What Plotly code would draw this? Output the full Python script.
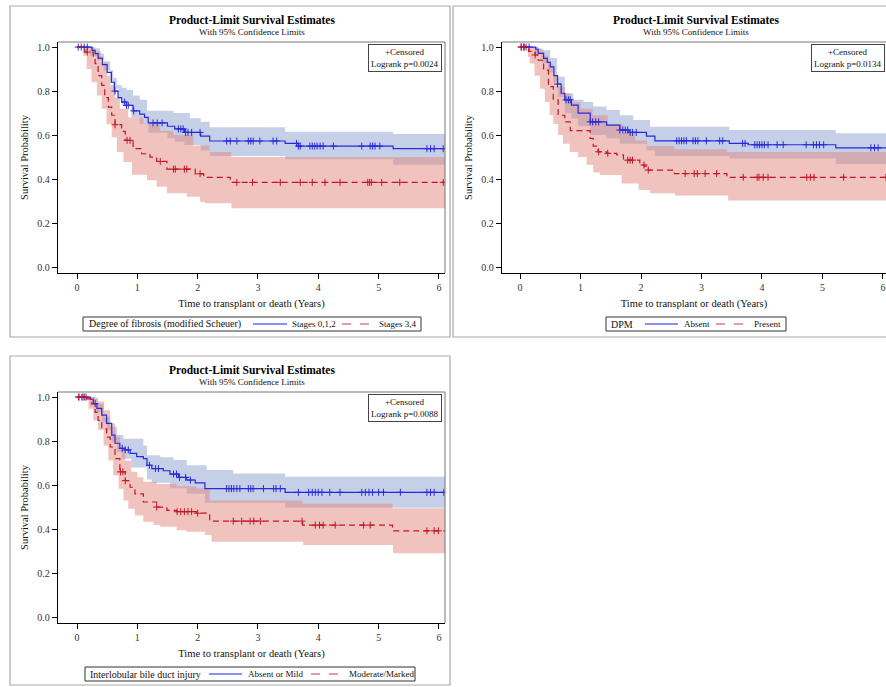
import plotly.graph_objects as go

W, H = 886, 687
OFF = 0  # page body margin is reset to 0 below

# ---------------- DATA ----------------
T_END = 6.1

# Panel 1: Degree of fibrosis (modified Scheuer)
p1_blue_t = [0, 0.25, 0.3, 0.35, 0.42, 0.5, 0.57, 0.62, 0.68, 0.74, 0.82, 0.93, 1.04, 1.12, 1.18, 1.5, 1.62, 1.78, 2.05, 2.2, 3.45, 3.67, 5.24]
p1_blue_s = [1.0, 0.985, 0.97, 0.95, 0.92, 0.885, 0.84, 0.80, 0.77, 0.75, 0.735, 0.71, 0.695, 0.68, 0.655, 0.64, 0.628, 0.612, 0.595, 0.573, 0.562, 0.55, 0.538]
p1_blue_cens = [0.02, 0.07, 0.12, 0.17, 0.63, 0.79, 0.82, 0.85, 0.94, 1.26, 1.33, 1.41, 1.68, 1.72, 1.76, 1.8, 1.84, 1.9, 2.04, 2.48, 2.54, 2.65, 2.84, 2.88, 2.92, 3.03, 3.25, 3.31, 3.64, 3.67, 3.7, 3.86, 3.9, 3.94, 3.98, 4.03, 4.08, 4.25, 4.72, 4.86, 4.9, 4.94, 5.02, 5.8, 5.86, 5.92, 6.07]
p1_blue_up_t = [0, 0.3, 0.38, 0.45, 0.55, 0.6, 0.66, 0.74, 0.82, 0.93, 1.04, 1.16, 1.6, 1.87, 2.05, 2.2, 3.45, 5.24]
p1_blue_up = [1.0, 0.995, 0.97, 0.935, 0.895, 0.86, 0.827, 0.815, 0.805, 0.78, 0.76, 0.71, 0.70, 0.676, 0.66, 0.635, 0.615, 0.605]
p1_blue_lo_t = [0, 0.21, 0.33, 0.44, 0.55, 0.6, 0.69, 0.74, 0.9, 1.04, 1.18, 1.5, 1.62, 1.78, 2.05, 2.2, 3.45, 5.24]
p1_blue_lo = [1.0, 0.96, 0.94, 0.894, 0.84, 0.81, 0.765, 0.735, 0.68, 0.65, 0.61, 0.585, 0.57, 0.555, 0.53, 0.505, 0.49, 0.465]

p1_red_t = [0, 0.13, 0.27, 0.3, 0.35, 0.41, 0.46, 0.52, 0.575, 0.63, 0.74, 0.8, 0.93, 1.07, 1.21, 1.32, 1.49, 1.96, 2.1, 2.54]
p1_red_s = [1.0, 0.977, 0.955, 0.925, 0.87, 0.826, 0.77, 0.727, 0.69, 0.647, 0.617, 0.576, 0.538, 0.515, 0.50, 0.48, 0.445, 0.424, 0.408, 0.385]
p1_red_cens = [0.17, 0.63, 0.83, 0.88, 1.38, 1.6, 1.63, 1.78, 1.82, 2.04, 2.65, 2.91, 3.37, 3.70, 3.90, 4.11, 4.36, 4.82, 4.85, 4.88, 5.05, 5.35, 6.07]
p1_red_up_t = [0, 0.2, 0.3, 0.4, 0.5, 0.55, 0.63, 0.71, 0.85, 1.1, 1.38, 1.6, 1.93, 2.2, 2.56]
p1_red_up = [1.0, 0.995, 0.98, 0.93, 0.87, 0.826, 0.77, 0.72, 0.68, 0.65, 0.62, 0.60, 0.553, 0.523, 0.50]
p1_red_lo_t = [0, 0.1, 0.16, 0.24, 0.33, 0.41, 0.49, 0.575, 0.66, 0.77, 0.91, 1.16, 1.32, 1.49, 1.82, 2.04, 2.12, 2.56]
p1_red_lo = [1.0, 0.96, 0.90, 0.84, 0.78, 0.72, 0.65, 0.59, 0.523, 0.477, 0.42, 0.395, 0.365, 0.335, 0.32, 0.297, 0.29, 0.267]

# Panel 2: DPM
p2_blue_t = [0, 0.26, 0.3, 0.39, 0.45, 0.5, 0.56, 0.62, 0.68, 0.74, 0.85, 0.96, 1.16, 1.43, 1.65, 1.8, 2.09, 2.23, 3.46, 3.77, 5.22]
p2_blue_s = [1.0, 0.99, 0.971, 0.949, 0.93, 0.91, 0.87, 0.832, 0.79, 0.76, 0.736, 0.70, 0.66, 0.645, 0.623, 0.612, 0.595, 0.574, 0.562, 0.556, 0.542]
p2_blue_cens = [0.02, 0.06, 0.1, 0.15, 0.62, 0.76, 0.8, 0.83, 1.16, 1.2, 1.25, 1.3, 1.65, 1.7, 1.74, 1.78, 1.82, 1.86, 1.92, 2.59, 2.63, 2.67, 2.71, 2.75, 2.86, 2.9, 2.94, 3.08, 3.3, 3.35, 3.68, 3.72, 3.88, 3.92, 3.96, 4.0, 4.04, 4.1, 4.25, 4.35, 4.73, 4.85, 4.9, 4.95, 5.02, 5.8, 5.86, 5.92]
p2_blue_up_t = [0, 0.3, 0.36, 0.5, 0.61, 0.74, 0.88, 1.05, 1.21, 1.43, 1.65, 1.87, 2.15, 3.46, 5.22]
p2_blue_up = [1.0, 0.995, 0.986, 0.95, 0.865, 0.79, 0.76, 0.75, 0.73, 0.714, 0.69, 0.668, 0.638, 0.623, 0.608]
p2_blue_lo_t = [0, 0.24, 0.35, 0.46, 0.55, 0.63, 0.74, 0.85, 0.96, 1.16, 1.43, 1.65, 2.09, 2.23, 3.46, 5.22]
p2_blue_lo = [1.0, 0.97, 0.93, 0.886, 0.84, 0.773, 0.70, 0.675, 0.64, 0.60, 0.585, 0.56, 0.53, 0.505, 0.493, 0.468]

p2_red_t = [0, 0.14, 0.25, 0.3, 0.39, 0.47, 0.55, 0.63, 0.74, 0.83, 1.16, 1.21, 1.29, 1.43, 1.6, 1.71, 1.98, 2.06, 2.12, 2.55, 3.42]
p2_red_s = [1.0, 0.98, 0.964, 0.94, 0.895, 0.82, 0.76, 0.69, 0.66, 0.62, 0.585, 0.55, 0.524, 0.517, 0.51, 0.486, 0.464, 0.459, 0.441, 0.425, 0.408]
p2_red_cens = [0.02, 0.07, 0.25, 1.3, 1.45, 1.78, 1.82, 1.86, 2.05, 2.12, 2.73, 2.88, 2.93, 3.06, 3.25, 3.69, 3.92, 3.95, 4.02, 4.1, 4.74, 4.8, 4.86, 5.35, 6.05]
p2_red_up_t = [0, 0.3, 0.39, 0.47, 0.55, 0.63, 0.74, 0.83, 1.0, 1.2, 1.45, 1.7, 1.9, 2.1, 2.55, 3.42]
p2_red_up = [1.0, 0.99, 0.96, 0.92, 0.87, 0.82, 0.79, 0.75, 0.72, 0.69, 0.65, 0.61, 0.575, 0.55, 0.535, 0.523]
p2_red_lo_t = [0, 0.13, 0.16, 0.24, 0.33, 0.41, 0.49, 0.55, 0.63, 0.71, 0.82, 0.96, 1.1, 1.21, 1.32, 1.68, 1.96, 2.15, 2.56, 3.44]
p2_red_lo = [1.0, 0.955, 0.925, 0.87, 0.81, 0.75, 0.69, 0.65, 0.60, 0.56, 0.523, 0.50, 0.465, 0.43, 0.418, 0.38, 0.35, 0.335, 0.325, 0.302]

# Panel 3: Interlobular bile duct injury
p3_blue_t = [0, 0.22, 0.27, 0.33, 0.41, 0.49, 0.575, 0.63, 0.71, 0.8, 0.88, 0.99, 1.1, 1.16, 1.24, 1.43, 1.54, 1.68, 1.82, 1.96, 2.12, 3.45]
p3_blue_s = [1.0, 0.99, 0.97, 0.949, 0.918, 0.88, 0.827, 0.79, 0.767, 0.76, 0.744, 0.729, 0.72, 0.69, 0.675, 0.665, 0.65, 0.635, 0.623, 0.61, 0.584, 0.567]
p3_blue_cens = [0.03, 0.08, 0.12, 0.3, 0.75, 0.8, 0.85, 1.2, 1.3, 1.35, 1.6, 1.65, 1.7, 1.8, 1.88, 2.48, 2.52, 2.56, 2.6, 2.65, 2.7, 2.84, 2.88, 2.92, 3.09, 3.26, 3.3, 3.37, 3.67, 3.84, 3.9, 3.95, 4.0, 4.06, 4.19, 4.36, 4.72, 4.78, 4.84, 4.9, 5.0, 5.08, 5.36, 5.8, 5.86, 5.92, 6.08]
p3_blue_up_t = [0, 0.3, 0.33, 0.44, 0.55, 0.66, 0.77, 1.1, 1.16, 1.38, 1.6, 1.82, 2.15, 2.59, 3.45]
p3_blue_up = [1.0, 0.995, 0.97, 0.91, 0.865, 0.827, 0.81, 0.78, 0.736, 0.726, 0.714, 0.69, 0.668, 0.653, 0.638]
p3_blue_lo_t = [0, 0.22, 0.3, 0.41, 0.49, 0.575, 0.66, 0.74, 0.9, 1.16, 1.24, 1.54, 1.82, 2.12, 3.45]
p3_blue_lo = [1.0, 0.96, 0.93, 0.886, 0.85, 0.795, 0.75, 0.72, 0.68, 0.625, 0.61, 0.585, 0.56, 0.52, 0.497]

p3_red_t = [0, 0.16, 0.24, 0.3, 0.35, 0.41, 0.49, 0.55, 0.63, 0.71, 0.8, 0.88, 0.96, 1.1, 1.32, 1.49, 1.65, 1.98, 2.2, 3.74, 5.23]
p3_red_s = [1.0, 0.992, 0.97, 0.93, 0.894, 0.856, 0.818, 0.773, 0.72, 0.66, 0.62, 0.59, 0.56, 0.523, 0.50, 0.485, 0.479, 0.472, 0.436, 0.418, 0.392]
p3_red_cens = [0.03, 0.1, 0.15, 0.72, 0.76, 0.8, 1.32, 1.66, 1.72, 1.78, 1.84, 1.9, 2.0, 2.59, 2.73, 2.87, 2.93, 3.04, 3.73, 3.95, 4.02, 4.08, 4.28, 4.75, 4.86, 5.8, 5.92, 5.99]
p3_red_up_t = [0, 0.3, 0.35, 0.45, 0.55, 0.63, 0.71, 0.8, 0.9, 1.0, 1.1, 1.32, 1.65, 1.98, 2.2, 3.74, 5.23]
p3_red_up = [1.0, 0.995, 0.98, 0.94, 0.88, 0.82, 0.76, 0.71, 0.66, 0.635, 0.615, 0.605, 0.595, 0.585, 0.53, 0.515, 0.495]
p3_red_lo_t = [0, 0.13, 0.19, 0.27, 0.35, 0.44, 0.52, 0.6, 0.69, 0.77, 0.85, 0.96, 1.1, 1.27, 1.38, 1.65, 1.82, 2.12, 2.23, 3.75, 5.24]
p3_red_lo = [1.0, 0.985, 0.947, 0.894, 0.85, 0.78, 0.712, 0.644, 0.583, 0.53, 0.492, 0.462, 0.433, 0.418, 0.41, 0.395, 0.388, 0.373, 0.342, 0.327, 0.29]

legend_titles = ["Degree of fibrosis (modified Scheuer)", "DPM", "Interlobular bile duct injury"]
group_names = [["Stages 0,1,2", "Stages 3,4"], ["Absent", "Present"], ["Absent or Mild", "Moderate/Marked"]]
logrank_p = ["0.0024", "0.0134", "0.0088"]
x_ticks = [0, 1, 2, 3, 4, 5, 6]
y_ticks = [0.0, 0.2, 0.4, 0.6, 0.8, 1.0]

TITLE = "Product-Limit Survival Estimates"
SUBTITLE = "With 95% Confidence Limits"
X_TITLE = "Time to transplant or death (Years)"
Y_TITLE = "Survival Probability"

# ---------------- STYLE / LAYOUT ----------------
FONT = "Liberation Serif"
BLUE = "#2a2ad8"
RED = "#c4162a"
BLUE_LEG = "#8f8ff0"
RED_LEG = "#e07a80"
BLUE_BAND = "rgba(139,161,209,0.5)"
RED_BAND = "rgba(225,135,125,0.5)"

# pixel layout (page coordinates)
panels = [
    dict(blue=(p1_blue_t, p1_blue_s, p1_blue_cens, p1_blue_lo_t, p1_blue_lo, p1_blue_up_t, p1_blue_up),
         red=(p1_red_t, p1_red_s, p1_red_cens, p1_red_lo_t, p1_red_lo, p1_red_up_t, p1_red_up),
         px=(58, 445), py=(42, 273), xr=(-0.315, 6.10), box=(10, 6, 450, 337), frame_right=True,
         leg_box=(83, 421, 317), leg_title_x=87, leg_items=[(253, 287, 290), (342, 372, 377)]),
    dict(blue=(p2_blue_t, p2_blue_s, p2_blue_cens, p2_blue_lo_t, p2_blue_lo, p2_blue_up_t, p2_blue_up),
         red=(p2_red_t, p2_red_s, p2_red_cens, p2_red_lo_t, p2_red_lo, p2_red_up_t, p2_red_up),
         px=(502, 886), py=(42, 273), xr=(-0.298, 6.05), box=(453, 6, 905, 337), frame_right=False,
         leg_box=(606, 786, 317), leg_title_x=609, leg_items=[(645, 678, 682), (716, 747, 752)]),
    dict(blue=(p3_blue_t, p3_blue_s, p3_blue_cens, p3_blue_lo_t, p3_blue_lo, p3_blue_up_t, p3_blue_up),
         red=(p3_red_t, p3_red_s, p3_red_cens, p3_red_lo_t, p3_red_lo, p3_red_up_t, p3_red_up),
         px=(58, 445), py=(392, 623), xr=(-0.315, 6.10), box=(10, 356, 450, 685), frame_right=True,
         leg_box=(85, 415, 667), leg_title_x=88, leg_items=[(209, 242, 246), (311, 341, 347)]),
]


def ext(t, s):
    return list(t) + [T_END], list(s) + [s[-1]]


def step_at(t, s, x):
    v = s[0]
    for ti, si in zip(t, s):
        if ti <= x:
            v = si
    return v


def px2x(v):
    return (v - OFF) / W


def px2y(v):
    return 1 - (v - OFF) / H


fig = go.Figure()
layout = dict(width=W, height=H, margin=dict(l=0, r=0, t=0, b=0, autoexpand=False),
              paper_bgcolor="white", plot_bgcolor="white",
              font=dict(family=FONT, size=10, color="#222"), showlegend=False)
shapes, annotations = [], []

for i, p in enumerate(panels):
    k = "" if i == 0 else str(i + 1)
    xa, ya = "x" + k, "y" + k
    for band, key in [(BLUE_BAND, "blue"), (RED_BAND, "red")]:
        t, s, cens, lo_t, lo, up_t, up = p[key]
        lx, ly = ext(lo_t, lo)
        ux, uy = ext(up_t, up)
        fig.add_trace(go.Scatter(x=lx, y=ly, mode="lines", line=dict(width=0, shape="hv", color=band),
                                 xaxis=xa, yaxis=ya, showlegend=False, hoverinfo="skip"))
        fig.add_trace(go.Scatter(x=ux, y=uy, mode="lines", line=dict(width=0, shape="hv", color=band),
                                 fill="tonexty", fillcolor=band,
                                 xaxis=xa, yaxis=ya, showlegend=False, hoverinfo="skip"))
    for color, key, name, dash in [(BLUE, "blue", group_names[i][0], "solid"),
                                   (RED, "red", group_names[i][1], "6px,4px")]:
        t, s, cens, lo_t, lo, up_t, up = p[key]
        sx, sy = ext(t, s)
        fig.add_trace(go.Scatter(x=sx, y=sy, mode="lines", name=name,
                                 line=dict(color=color, width=1.2, shape="hv", dash=dash),
                                 xaxis=xa, yaxis=ya))
        fig.add_trace(go.Scatter(x=cens, y=[step_at(t, s, c) for c in cens], mode="markers",
                                 marker=dict(symbol="cross-thin", size=5, line=dict(width=1, color=color)),
                                 xaxis=xa, yaxis=ya, showlegend=False))

    x0, x1 = px2x(p["px"][0]), px2x(p["px"][1])
    y0, y1 = px2y(p["py"][1]), px2y(p["py"][0])
    layout["xaxis" + k] = dict(domain=[x0, min(x1, 1.0)], range=list(p["xr"]), anchor=ya,
                               tickvals=x_ticks, ticks="outside", ticklen=5, tickcolor="#000",
                               showline=True, linecolor="#000", linewidth=1.4, showgrid=False,
                               zeroline=False, automargin=False,
                               tickfont=dict(family=FONT, size=10, color="#333"),
                               title=dict(text=X_TITLE, font=dict(family=FONT, size=10.5, color="#111"),
                                          standoff=7))
    layout["yaxis" + k] = dict(domain=[y0, y1], range=[-0.027, 1.023], anchor=xa,
                               tickvals=y_ticks, tickformat=".1f", ticks="outside", ticklen=5,
                               tickcolor="#000", showline=True, linecolor="#000", linewidth=1.4,
                               showgrid=False, zeroline=False, automargin=False,
                               tickfont=dict(family=FONT, size=10, color="#333"),
                               title=dict(text=Y_TITLE, font=dict(family=FONT, size=10.5, color="#111"),
                                          standoff=6))
    # plot frame (top / right)
    shapes.append(dict(type="line", xref=xa + " domain", yref=ya + " domain", x0=0, x1=1, y0=1, y1=1,
                       line=dict(color="#777", width=1)))
    if p["frame_right"]:
        shapes.append(dict(type="line", xref=xa + " domain", yref=ya + " domain", x0=1, x1=1, y0=0, y1=1,
                           line=dict(color="#777", width=1)))
    # panel border
    bx0, by0, bx1, by1 = p["box"]
    shapes.append(dict(type="rect", xref="paper", yref="paper", x0=px2x(bx0), x1=px2x(bx1),
                       y0=px2y(by1), y1=px2y(by0), line=dict(color="#aaa", width=1.2)))
    # titles
    cx = px2x((p["px"][0] + p["px"][1] + (3 if i == 1 else 0)) / 2)
    annotations.append(dict(text="<b>" + TITLE + "</b>", x=cx, y=px2y(p["py"][0] - 22),
                            xref="paper", yref="paper", xanchor="center", yanchor="middle",
                            showarrow=False, font=dict(family=FONT, size=11.5, color="#000")))
    annotations.append(dict(text=SUBTITLE, x=cx, y=px2y(p["py"][0] - 10),
                            xref="paper", yref="paper", xanchor="center", yanchor="middle",
                            showarrow=False, font=dict(family=FONT, size=9, color="#111")))
    # inset
    annotations.append(dict(text="+Censored<br>Logrank p=" + logrank_p[i],
                            x=1, y=1, xref=xa + " domain", yref=ya + " domain",
                            xanchor="right", yanchor="top", xshift=-3 if p["frame_right"] else -1, yshift=-2,
                            showarrow=False, align="center", bordercolor="#444", borderwidth=1,
                            borderpad=2, bgcolor="white",
                            font=dict(family=FONT, size=9, color="#111")))
    # legend (drawn manually: one-line boxed legend)
    lx0, lx1, ltop = p["leg_box"]
    lmid = ltop + 7
    shapes.append(dict(type="rect", xref="paper", yref="paper", x0=px2x(lx0), x1=px2x(lx1),
                       y0=px2y(ltop + 14), y1=px2y(ltop), line=dict(color="#333", width=1)))
    annotations.append(dict(text=legend_titles[i], x=px2x(p["leg_title_x"]), y=px2y(lmid),
                            xref="paper", yref="paper", xanchor="left", yanchor="middle",
                            showarrow=False, font=dict(family=FONT, size=10, color="#111")))
    for (sx0, sx1, tx), col, dash, wdt, name in zip(p["leg_items"], [BLUE_LEG, RED_LEG],
                                                    ["solid", "dash"], [2, 1.5], group_names[i]):
        shapes.append(dict(type="line", xref="paper", yref="paper", x0=px2x(sx0), x1=px2x(sx1),
                           y0=px2y(lmid), y1=px2y(lmid), line=dict(color=col, width=wdt, dash=dash)))
        annotations.append(dict(text=name, x=px2x(tx), y=px2y(lmid), xref="paper", yref="paper",
                                xanchor="left", yanchor="middle", showarrow=False,
                                font=dict(family=FONT, size=9, color="#111")))

layout["shapes"] = shapes
layout["annotations"] = annotations
fig.update_layout(**layout)
fig.write_html("out.html", config={"displayModeBar": False},
               post_script="document.body.style.margin='0';document.body.style.overflow='hidden';")
